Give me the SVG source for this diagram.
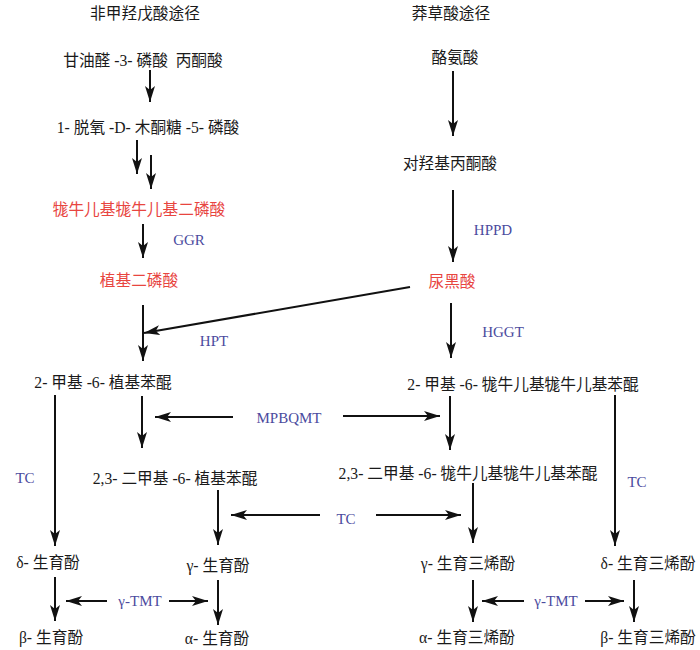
<svg xmlns="http://www.w3.org/2000/svg" width="700" height="650" viewBox="0 0 700 650">
<defs>
<style>
text{font-family:"Liberation Serif","Noto Sans CJK SC",serif;font-size:15.7px;text-anchor:middle;dominant-baseline:central;fill:#1a1a1a}
.red{fill:#e8453f}
.enz{fill:#4b4b9e;font-size:15px}
.c line{stroke:#111;stroke-width:2;marker-end:url(#ah)}
</style>
<marker id="ah" markerUnits="userSpaceOnUse" markerWidth="18" markerHeight="12" refX="16" refY="5" orient="auto">
<path d="M0,0 L16,5 L0,10 L4,5 z" fill="#111"/>
</marker>
</defs>
<rect width="700" height="650" fill="#fff"/>
<g id="titles">
<text x="145" y="13">非甲羟戊酸途径</text>
<text x="451" y="13">莽草酸途径</text>
</g>
<g id="g3p"><text x="143" y="60">甘油醛 -3- 磷酸&#160; 丙酮酸</text></g>
<g id="dxp"><text x="148" y="127">1- 脱氧 -D- 木酮糖 -5- 磷酸</text></g>
<g id="ggpp"><text class="red" x="139" y="209">牻牛儿基牻牛儿基二磷酸</text></g>
<g id="pdp"><text class="red" x="139" y="280">植基二磷酸</text></g>
<g id="mpbq"><text x="103" y="382">2- 甲基 -6- 植基苯醌</text></g>
<g id="tyr"><text x="455" y="57">酪氨酸</text></g>
<g id="hpp"><text x="450" y="163">对羟基丙酮酸</text></g>
<g id="hga"><text class="red" x="452" y="281">尿黑酸</text></g>
<g id="mggbq"><text x="523" y="384">2- 甲基 -6- 牻牛儿基牻牛儿基苯醌</text></g>
<g id="dmpbq"><text x="175" y="478">2,3- 二甲基 -6- 植基苯醌</text></g>
<g id="dmggbq"><text x="468" y="473">2,3- 二甲基 -6- 牻牛儿基牻牛儿基苯醌</text></g>
<g id="dtoc"><text x="48" y="562">δ- 生育酚</text></g>
<g id="gtoc"><text x="218" y="565">γ- 生育酚</text></g>
<g id="gt3"><text x="468" y="563">γ- 生育三烯酚</text></g>
<g id="dt3"><text x="648" y="563">δ- 生育三烯酚</text></g>
<g id="btoc"><text x="51" y="637">β- 生育酚</text></g>
<g id="atoc"><text x="217" y="638">α- 生育酚</text></g>
<g id="at3"><text x="467" y="637">α- 生育三烯酚</text></g>
<g id="bt3"><text x="648" y="637">β- 生育三烯酚</text></g>
<g id="enzymes">
<text class="enz" x="189" y="240">GGR</text>
<text class="enz" x="214" y="341">HPT</text>
<text class="enz" x="493" y="230">HPPD</text>
<text class="enz" x="503" y="332">HGGT</text>
<text class="enz" x="289" y="418">MPBQMT</text>
<text class="enz" x="25" y="478">TC</text>
<text class="enz" x="346" y="519">TC</text>
<text class="enz" x="637" y="482">TC</text>
<text class="enz" x="140" y="601">γ-TMT</text>
<text class="enz" x="556" y="601">γ-TMT</text>
</g>
<g id="connectors" class="c">
<line x1="150" y1="70" x2="150" y2="102"/>
<line x1="137" y1="140" x2="137" y2="174"/>
<line x1="151" y1="155" x2="151" y2="189"/>
<line x1="143" y1="224" x2="143" y2="258"/>
<line x1="143" y1="305" x2="143" y2="361"/>
<line x1="410" y1="287" x2="144" y2="333"/>
<line x1="453" y1="71" x2="453" y2="136"/>
<line x1="453" y1="190" x2="453" y2="262"/>
<line x1="451" y1="303" x2="451" y2="358"/>
<line x1="55" y1="395" x2="55" y2="546"/>
<line x1="142" y1="396" x2="142" y2="448"/>
<line x1="233" y1="417" x2="155" y2="417"/>
<line x1="343" y1="416" x2="440" y2="416"/>
<line x1="450" y1="396" x2="450" y2="450"/>
<line x1="615" y1="395" x2="615" y2="546"/>
<line x1="218" y1="490" x2="218" y2="545"/>
<line x1="320" y1="515" x2="231" y2="515"/>
<line x1="376" y1="515" x2="461" y2="515"/>
<line x1="473" y1="483" x2="473" y2="543"/>
<line x1="55" y1="577" x2="55" y2="621"/>
<line x1="218" y1="580" x2="218" y2="625"/>
<line x1="473" y1="580" x2="473" y2="622"/>
<line x1="634" y1="580" x2="634" y2="622"/>
<line x1="107" y1="601" x2="66" y2="601"/>
<line x1="169" y1="601" x2="208" y2="601"/>
<line x1="524" y1="601" x2="482" y2="601"/>
<line x1="585" y1="601" x2="624" y2="601"/>
</g>
</svg>
